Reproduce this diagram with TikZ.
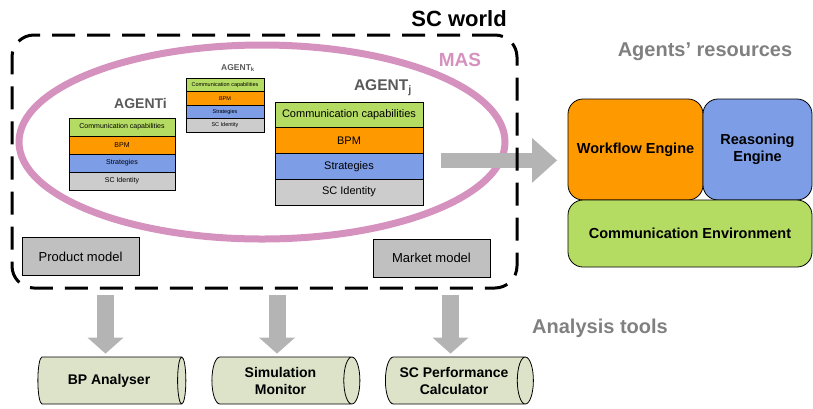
\documentclass[tikz,border=0pt]{standalone}
\usepackage{fontspec}
\setmainfont{Liberation Sans}
\usetikzlibrary{positioning,shapes.geometric,arrows.meta}
\definecolor{masPink}{RGB}{214,146,190}
\definecolor{rowGreen}{RGB}{181,220,98}
\definecolor{rowOrange}{RGB}{255,153,0}
\definecolor{rowBlue}{RGB}{125,157,230}
\definecolor{rowGray}{RGB}{204,204,204}
\definecolor{modelGray}{RGB}{192,192,192}
\definecolor{toolFill}{RGB}{221,227,201}
\definecolor{titleGray}{RGB}{128,128,128}
\definecolor{agentGray}{RGB}{89,89,89}
\definecolor{arrowGray}{RGB}{180,180,180}

\begin{document}
\begin{tikzpicture}[x=1pt,y=-1pt,
	agi/.style={draw,line width=0.8pt,inner sep=0pt,outer sep=0pt,minimum width=106pt,minimum height=18pt,font=\fontsize{7}{8}\selectfont},
	agk/.style={draw,line width=0.7pt,inner sep=0pt,outer sep=0pt,minimum width=78pt,minimum height=13.5pt,font=\fontsize{5.5}{6}\selectfont},
	agj/.style={draw,line width=0.8pt,inner sep=0pt,outer sep=0pt,minimum width=148pt,minimum height=25.75pt,font=\fontsize{11}{13}\selectfont},
	agentlabel/.style={inner sep=0pt,text=agentGray,font=\bfseries\fontsize{#1}{#1}\selectfont},
	model/.style={draw,line width=0.8pt,fill=modelGray,minimum width=117pt,minimum height=38pt,font=\fontsize{13}{15}\selectfont},
	resbox/.style={draw,line width=0.8pt,rounded corners=15pt,inner sep=2pt,outer sep=0pt,align=center,font=\bfseries\fontsize{14.5}{17}\selectfont},
	tool/.style={cylinder,draw,line width=0.8pt,fill=toolFill,shape aspect=0.55,minimum width=47pt,minimum height=148pt,inner sep=1pt,align=center,font=\bfseries\fontsize{14}{17}\selectfont},
	heading/.style={inner sep=0pt,text=titleGray,font=\bfseries\fontsize{20}{24}\selectfont},
	downarrow/.style={line width=17pt,draw=arrowGray,-{Triangle[length=16pt,width=36pt,line width=0pt]},shorten <=7pt,shorten >=3pt},
	rightarrow/.style={line width=15pt,draw=arrowGray,-{Triangle[length=25pt,width=45pt,line width=0pt]},shorten <=9pt,shorten >=11pt}]
	\useasboundingbox (0,0) rectangle (813,408);

	% multi agent system
	\node[ellipse,draw=masPink,line width=7pt,minimum width=486pt,minimum height=194pt](mas) at (262,142){};
	\node[inner sep=0pt,text=masPink,font=\bfseries\fontsize{19}{22}\selectfont](maslabel) at (460,60){MAS};

	% AGENTi
	\node[agi,fill=rowGreen,anchor=north west](agi1) at (69,118){Communication capabilities};
	\node[agi,fill=rowOrange,below=0pt of agi1](agi2){BPM};
	\node[agi,fill=rowBlue,below=0pt of agi2](agi3){Strategies};
	\node[agi,fill=rowGray,below=0pt of agi3](agi4){SC Identity};
	\node[agentlabel=14,above left=9pt and 8pt of agi1.north east](agilabel){AGENTi};

	% AGENTk
	\node[agk,fill=rowGreen,anchor=north west](agk1) at (186,78){Communication capabilities};
	\node[agk,fill=rowOrange,below=0pt of agk1](agk2){BPM};
	\node[agk,fill=rowBlue,below=0pt of agk2](agk3){Strategies};
	\node[agk,fill=rowGray,below=0pt of agk3](agk4){SC Identity};
	\node[agentlabel=8.5,above left=6pt and 9pt of agk1.north east](agklabel){AGENT\textsubscript{k}};

	% AGENTj
	\node[agj,fill=rowGreen,anchor=north west](agj1) at (275,102){Communication capabilities};
	\node[agj,fill=rowOrange,below=0pt of agj1](agj2){BPM};
	\node[agj,fill=rowBlue,below=0pt of agj2](agj3){Strategies};
	\node[agj,fill=rowGray,below=0pt of agj3](agj4){SC Identity};
	\node[agentlabel=15.5,above left=6pt and 11pt of agj1.north east](agjlabel){AGENT\textsubscript{j}};

	% models
	\node[model](product) at (80.5,256.5){Product model};
	\node[model](market) at (431.5,258){Market model};

	% agents' resources
	\node[heading](reslabel) at (705,52){Agents’ resources};
	\node[resbox,fill=rowOrange,minimum width=135pt,minimum height=101pt](wfe) at (635.5,149.5){Workflow Engine};
	\node[resbox,fill=rowBlue,minimum width=109pt,minimum height=101pt,right=0pt of wfe](rse){Reasoning\\Engine};
	\node[resbox,fill=rowGreen,minimum width=244pt,minimum height=67pt,below=0pt of wfe.south west,anchor=north west](cme){Communication Environment};

	\draw[rightarrow] ([xshift=9pt,yshift=6pt]agj3.east) -- ([yshift=6pt]agj3.east -| wfe.west);

	% SC world
	\node[draw,line width=3pt,dash pattern=on 23pt off 12pt,rounded corners=22pt,outer sep=0pt,minimum width=505pt,minimum height=253pt](scworld) at (264.5,161.5){};
	\node[inner sep=0pt,font=\bfseries\fontsize{22}{26}\selectfont,above left=8pt and 10pt of scworld.north east](scworldlabel){SC world};

	% analysis tools
	\node[heading](toollabel) at (600,328){Analysis tools};
	\node[tool](bpa) at (109,380.5){BP Analyser};
	\node[tool](sim) at (280.5,380.5){Simulation\\Monitor};
	\node[tool](scp) at (454,380.5){SC Performance\\Calculator};

	\foreach \t in {bpa,sim,scp}
		\draw[downarrow] ([xshift=-3.5pt]\t.north |- scworld.south) -- ([xshift=-3.5pt]\t.north);
\end{tikzpicture}
\end{document}
